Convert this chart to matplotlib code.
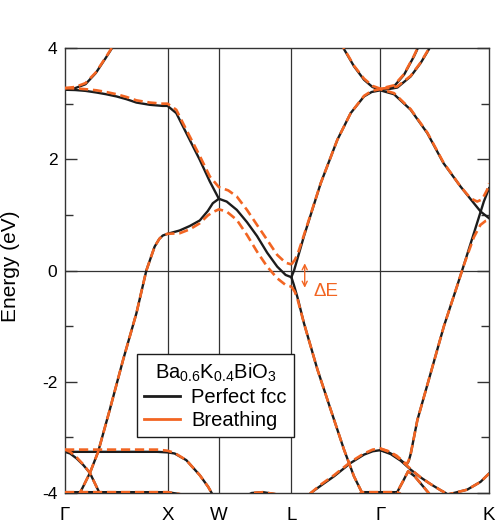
import matplotlib
matplotlib.use('Agg')
import matplotlib.pyplot as plt
from matplotlib.lines import Line2D
import numpy as np

plt.rcParams['font.family'] = ['Liberation Sans', 'DejaVu Sans']
plt.rcParams['mathtext.fontset'] = 'custom'
plt.rcParams['mathtext.rm'] = 'Liberation Sans'
plt.rcParams['axes.unicode_minus'] = False

# high-symmetry path (lengths in 2pi/a)
kpoint_labels = ['Γ', 'X', 'W', 'L', 'Γ', 'K']
seg_len = [1.0, 0.5, 0.7071, 0.866, 1.0607]

# --- bands: k along path, energy in eV ---
# lower band Gamma-X-W-L
b1_k = [0, 0.068, 0.146, 0.243, 0.323, 0.437, 0.566, 0.696, 0.793, 0.874, 0.92, 0.954, 1.0,
        1.118, 1.216, 1.314, 1.392, 1.441, 1.5,
        1.576, 1.675, 1.774, 1.872, 1.971, 2.069, 2.151, 2.207]
b1_fcc = [-4.2, -4.15, -4.0, -3.64, -3.26, -2.5, -1.61, -0.77, 0.0, 0.43, 0.57, 0.63, 0.66,
          0.72, 0.80, 0.90, 1.07, 1.21, 1.29,
          1.24, 1.09, 0.87, 0.62, 0.32, 0.07, -0.08, -0.12]
b1_br = [-4.2, -4.15, -4.0, -3.64, -3.26, -2.5, -1.61, -0.77, 0.0, 0.43, 0.57, 0.63, 0.66,
         0.67, 0.74, 0.85, 0.99, 1.05, 1.1,
         1.06, 0.91, 0.64, 0.34, 0.07, -0.14, -0.26, -0.29]

# upper band Gamma-X-W (breathing continues along W-L)
b2_k = [0, 0.1, 0.2, 0.308, 0.4, 0.502, 0.6, 0.696, 0.825, 0.95, 1.0,
        1.085, 1.183, 1.314, 1.412, 1.5]
b2_fcc = [3.25, 3.245, 3.23, 3.2, 3.17, 3.13, 3.08, 3.02, 2.98, 2.96, 2.96,
          2.83, 2.47, 1.99, 1.6, 1.29]
b2_br_k = b2_k + [1.592, 1.675, 1.774, 1.872, 1.971, 2.069, 2.151, 2.207]
b2_br = [3.28, 3.275, 3.26, 3.24, 3.21, 3.17, 3.12, 3.06, 3.02, 3.0, 3.0,
         2.89, 2.53, 2.06, 1.69, 1.5,
         1.44, 1.33, 1.09, 0.82, 0.55, 0.28, 0.14, 0.11]

# band rising out of the top from Gamma (Gamma-X)
b3_k = [0, 0.1, 0.2, 0.3, 0.4, 0.5]
b3_fcc = [3.25, 3.28, 3.35, 3.55, 3.83, 4.12]
b3_br = [3.28, 3.3, 3.37, 3.56, 3.84, 4.13]

# flat O band near -3.25 (Gamma-X-W)
b4_k = [0, 0.3, 0.6, 0.9, 1.0, 1.069, 1.183, 1.314, 1.396, 1.43, 1.5]
b4_fcc = [-3.26, -3.26, -3.26, -3.26, -3.27, -3.29, -3.41, -3.68, -3.89, -4.0, -4.25]
b4_br = [-3.22, -3.22, -3.22, -3.22, -3.24, -3.28, -3.41, -3.68, -3.89, -4.0, -4.25]

# band falling from Gamma (Gamma-X)
b5_k = [0, 0.05, 0.114, 0.18, 0.243, 0.3, 0.35, 0.4]
b5_fcc = [-3.26, -3.29, -3.38, -3.5, -3.64, -3.86, -4.05, -4.25]
b5_br = [-3.22, -3.26, -3.36, -3.49, -3.64, -3.86, -4.05, -4.25]

# L-Gamma-K arch through 3.25 at Gamma
b7_k = [2.207, 2.233, 2.33, 2.493, 2.655, 2.785, 2.915, 2.99, 3.073,
        3.207, 3.37, 3.532, 3.69, 3.856, 3.986, 4.052, 4.134]
b7_fcc = [-0.12, 0.0, 0.62, 1.57, 2.35, 2.83, 3.13, 3.21, 3.24,
          3.17, 2.89, 2.47, 1.93, 1.51, 1.21, 1.06, 0.94]
b7_br_k = [2.207, 2.24, 2.269, 2.33, 2.493, 2.655, 2.785, 2.915, 2.99, 3.073,
           3.207, 3.37, 3.532, 3.69, 3.856, 3.953, 4.018, 4.067, 4.115, 4.134]
b7_br = [0.11, 0.19, 0.3, 0.64, 1.57, 2.35, 2.83, 3.14, 3.23, 3.26,
         3.19, 2.9, 2.48, 1.94, 1.51, 1.3, 1.24, 1.28, 1.45, 1.57]

# band falling from L (L-Gamma)
b8_fcc_k = [2.207, 2.23, 2.269, 2.33, 2.461, 2.59, 2.72, 2.817, 2.902, 2.941]
b8_fcc = [-0.12, -0.25, -0.5, -0.95, -1.78, -2.5, -3.22, -3.7, -4.02, -4.18]
b8_br_k = [2.207, 2.24, 2.269, 2.33, 2.461, 2.59, 2.72, 2.817, 2.902, 2.941]
b8_br = [-0.29, -0.38, -0.53, -0.95, -1.78, -2.5, -3.22, -3.7, -4.02, -4.18]

# parabola above Gamma (L-Gamma-K)
b9_k = [2.68, 2.72, 2.818, 2.915, 2.997, 3.073, 3.207, 3.305, 3.402, 3.435, 3.47]
b9_fcc = [4.12, 3.98, 3.67, 3.43, 3.3, 3.25, 3.31, 3.52, 3.85, 3.98, 4.12]
b9_br = [4.13, 3.99, 3.68, 3.45, 3.32, 3.27, 3.33, 3.53, 3.86, 3.99, 4.13]

# second band rising from Gamma (Gamma-K)
b10_k = [3.073, 3.15, 3.24, 3.37, 3.467, 3.548, 3.6]
b10_fcc = [3.25, 3.26, 3.29, 3.49, 3.73, 3.98, 4.15]
b10_br = [3.27, 3.28, 3.31, 3.5, 3.74, 3.99, 4.15]

# lower arch through -3.23 at Gamma (L-Gamma-K)
b11_k = [2.299, 2.396, 2.5, 2.623, 2.785, 2.915, 3.0, 3.073,
         3.175, 3.273, 3.37, 3.467, 3.564, 3.662, 3.71, 3.77]
b11_fcc = [-4.2, -4.0, -3.86, -3.7, -3.46, -3.31, -3.25, -3.23,
           -3.3, -3.42, -3.58, -3.72, -3.84, -3.95, -4.0, -4.08]
b11_br = [-4.2, -4.0, -3.84, -3.68, -3.44, -3.29, -3.22, -3.2,
          -3.27, -3.4, -3.57, -3.72, -3.84, -3.95, -4.0, -4.08]

# band from Gamma (-3.23) that turns up steeply towards K
b12_fcc_k = [3.073, 3.156, 3.234, 3.3, 3.33, 3.35, 3.37, 3.435, 3.564, 3.694,
             3.824, 3.885, 3.986, 4.083, 4.134]
b12_fcc = [-3.23, -3.27, -3.35, -3.45, -3.49, -3.43, -3.3, -2.69, -1.85, -1.0,
           -0.27, 0.08, 0.67, 1.24, 1.48]
b12_br_k = [3.073, 3.156, 3.234, 3.3, 3.33, 3.35, 3.37, 3.435, 3.564, 3.694,
            3.824, 3.885, 3.986, 4.05, 4.099, 4.134]
b12_br = [-3.2, -3.25, -3.33, -3.44, -3.48, -3.42, -3.3, -2.69, -1.85, -1.0,
          -0.27, 0.08, 0.6, 0.82, 0.89, 0.91]

# small cap rising from the bottom near Gamma (Gamma-K)
b13_k = [3.2, 3.234, 3.292, 3.345, 3.409, 3.477, 3.545, 3.584]
b13_e = [-4.15, -4.0, -3.8, -3.61, -3.7, -3.85, -4.0, -4.1]

# band coming up from the bottom near K
b14_k = [3.7, 3.791, 3.921, 4.051, 4.134]
b14_e = [-4.04, -4.0, -3.94, -3.8, -3.65]

# flat pieces sitting on -4 eV
flat1_k = [0, 0.5, 1.0, 1.12, 1.25]
flat1_e = [-3.985, -3.985, -3.985, -4.02, -4.15]
flat2_k = [1.72, 1.82, 1.93, 2.05, 2.12]
flat2_e = [-4.1, -4.0, -3.985, -4.02, -4.12]
flat3_k = [2.84, 2.9, 3.073, 3.24, 3.3]
flat3_e = [-4.06, -3.985, -3.985, -3.985, -4.05]

fcc_bands = [(b1_k, b1_fcc), (b2_k, b2_fcc), (b3_k, b3_fcc), (b4_k, b4_fcc),
             (b5_k, b5_fcc), (b7_k, b7_fcc), (b8_fcc_k, b8_fcc), (b9_k, b9_fcc),
             (b10_k, b10_fcc), (b11_k, b11_fcc), (b12_fcc_k, b12_fcc),
             (b13_k, b13_e), (b14_k, b14_e),
             (flat1_k, flat1_e), (flat2_k, flat2_e), (flat3_k, flat3_e)]
br_bands = [(b1_k, b1_br), (b2_br_k, b2_br), (b3_k, b3_br), (b4_k, b4_br),
            (b5_k, b5_br), (b7_br_k, b7_br), (b8_br_k, b8_br), (b9_k, b9_br),
            (b10_k, b10_br), (b11_k, b11_br), (b12_br_k, b12_br),
            (b13_k, b13_e), (b14_k, b14_e),
            (flat1_k, flat1_e), (flat2_k, flat2_e), (flat3_k, flat3_e)]

black = '#1c1c1c'
orange = '#f26522'
grey = '#333333'

nodes = np.concatenate([[0], np.cumsum(seg_len)])

fig = plt.figure(figsize=(4.98, 5.28), dpi=100)
ax = fig.add_axes([0.1305, 0.0663, 0.8515, 0.8427])

for xv in nodes[1:-1]:
    ax.axvline(xv, color=grey, lw=0.9, zorder=1)
ax.axhline(0, color=grey, lw=0.9, zorder=1)

for k, e in fcc_bands:
    ax.plot(k, e, color=black, lw=1.7, zorder=2, solid_joinstyle='round')
for k, e in br_bands:
    ax.plot(k, e, color=orange, lw=1.9, dashes=(3.5, 1.8), zorder=3)

# Delta E marker at L
ax.annotate('', xy=(2.337, 0.13), xytext=(2.337, -0.31),
            arrowprops=dict(arrowstyle='<->', color=orange, lw=1.0,
                            shrinkA=0, shrinkB=0, mutation_scale=9))
ax.text(2.424, -0.38, 'ΔE', color=orange, fontsize=13.5, ha='left', va='center')

ax.set_xlim(nodes[0], nodes[-1])
ax.set_ylim(-4, 4)
ax.set_xticks(nodes)
ax.set_xticklabels(kpoint_labels)
ax.set_yticks([-4, -2, 0, 2, 4])
ax.set_yticks([-3, -1, 1, 3], minor=True)
ax.tick_params(axis='x', length=0, labelsize=13.5, pad=10)
ax.tick_params(axis='y', which='both', direction='in', left=True, right=True,
               color=grey, width=1.0, labelsize=12.5, pad=5.5)
ax.tick_params(axis='y', which='major', length=8.5)
ax.tick_params(axis='y', which='minor', length=5.5)
for sp in ax.spines.values():
    sp.set_color(grey)
    sp.set_linewidth(1.0)

ax.set_ylabel('Energy (eV)', fontsize=15)
ax.yaxis.set_label_coords(-0.105, 0.51)

handles = [Line2D([], [], color=black, lw=2.0),
           Line2D([], [], color=orange, lw=2.0)]
leg = ax.legend(handles, ['Perfect fcc', 'Breathing'],
                title=r'Ba$_{0.6}$K$_{0.4}$BiO$_3$', title_fontsize=14.5,
                fontsize=14.5, loc='lower left', bbox_to_anchor=(0.17, 0.126),
                borderaxespad=0, fancybox=False, framealpha=1, edgecolor=black,
                handlelength=1.8, handletextpad=0.55, labelspacing=0.2,
                borderpad=0.35)
leg.get_frame().set_linewidth(1.0)
leg.set_zorder(5)

fig.savefig('out.png', dpi=100)
